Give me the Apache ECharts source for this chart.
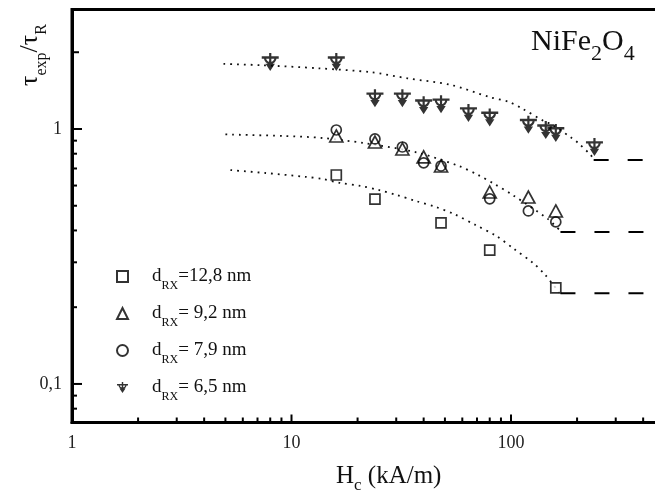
<!DOCTYPE html>
<html>
<head>
<meta charset="utf-8">
<script src="https://cdn.jsdelivr.net/npm/echarts@6/dist/echarts.min.js"></script>
<style>
html,body{margin:0;padding:0;background:#fff;}
#chart{width:655px;height:493px;}
</style>
</head>
<body>
<div id="chart"></div>
<script>
// ---- data ----
const seriesNames = ['d128', 'd92', 'd79', 'd65'];
const legendLabels = ['=12,8 nm', '= 9,2 nm', '= 7,9 nm', '= 6,5 nm'];

const hc128 = [16, 24, 48, 80, 160];
const tau128 = [0.66, 0.531, 0.428, 0.335, 0.238];

const hc92 = [16, 24, 32, 40, 48, 80, 120, 160];
const tau92 = [0.939, 0.889, 0.835, 0.777, 0.716, 0.566, 0.541, 0.477];

const hc79 = [16, 24, 32, 40, 48, 80, 120, 160];
const tau79 = [0.991, 0.914, 0.85, 0.736, 0.716, 0.532, 0.477, 0.432];

const hc65 = [8, 16, 24, 32, 40, 48, 64, 80, 120, 144, 160, 240];
const tau65 = [1.83, 1.83, 1.32, 1.32, 1.24, 1.25, 1.155, 1.11, 1.04, 0.99, 0.965, 0.85];

// dotted fit curves
const fitTopX = [4.9, 7.2, 13.3, 23, 33.8, 53, 79.6, 98, 111, 141, 155, 189, 202, 231, 236];
const fitTopY = [1.80, 1.78, 1.73, 1.67, 1.58, 1.49, 1.335, 1.276, 1.21, 1.075, 1.036, 0.922, 0.882, 0.79, 0.765];
const fitMidX = [5.0, 9.2, 13.8, 21.1, 37, 57.8, 70.9, 83.9, 101.7, 147, 166];
const fitMidY = [0.952, 0.939, 0.922, 0.882, 0.81, 0.716, 0.66, 0.609, 0.551, 0.444, 0.402];
const fitLowX = [5.27, 7.6, 11.6, 13.8, 16.7, 20.6, 24.9, 30.1, 36.8, 45.5, 55, 69, 85.5, 103, 126, 143, 166];
const fitLowY = [0.69, 0.672, 0.649, 0.637, 0.614, 0.598, 0.577, 0.551, 0.522, 0.494, 0.464, 0.42, 0.381, 0.339, 0.298, 0.268, 0.228];

// dashed asymptotes: [start x, level]
const asymTop = [238, 0.756];
const asymMid = [168, 0.394];
const asymLow = [168, 0.227];

// axes
const xMin = 1, xMax = 1000;
const yMin = 0.0706, yMax = 2.942;
const xMajorTicks = [10, 100];
const xMinorTicks = [2, 3, 4, 5, 6, 7, 8, 9, 20, 30, 40, 50, 60, 70, 80, 90, 200, 300, 400, 500, 600, 700, 800, 900];
const yMajorTicks = [0.1, 1];
const yMidTicks = [2];
const yMinorTicks = [0.08, 0.09, 0.2, 0.3, 0.4, 0.5, 0.6, 0.7, 0.8, 0.9];

// ---- helpers ----
const FONT = "'Liberation Serif','Times New Roman',serif";
const zip = (a, b) => a.map((v, i) => [v, b[i]]);
const hollow = {color: '#fff', borderColor: '#000', borderWidth: 1.7};
const sym65 = 'path://M0 3.5H20V6.2H0Z M8.7 0H11.3V18H8.7Z M2.5 5L5 5A5 5 0 0 0 15 5L17.5 5A7.5 7.5 0 0 1 2.5 5Z M4.5 12H15.5L10 20Z';

function tickData(list, len, axis) {
  return list.map(v => axis === 'x' ? [v, yMin, len, 0] : [xMin, v, len, 1]);
}
const tickSeries = {
  type: 'custom',
  silent: true,
  z: 10,
  renderItem: function (params, api) {
    const p = api.coord([api.value(0), api.value(1)]);
    const len = api.value(2);
    const isY = api.value(3) === 1;
    return {
      type: 'line',
      shape: isY ? {x1: p[0], y1: p[1], x2: p[0] + len, y2: p[1]}
                 : {x1: p[0], y1: p[1], x2: p[0], y2: p[1] - len},
      style: {stroke: '#000', lineWidth: 2}
    };
  },
  data: [].concat(
    tickData(xMajorTicks, 8, 'x'),
    tickData(xMinorTicks, 5, 'x'),
    tickData(yMajorTicks, 10, 'y'),
    tickData(yMidTicks, 7, 'y'),
    tickData(yMinorTicks, 5, 'y')
  )
};

function isPow10(v) {
  const l = Math.log10(v);
  return Math.abs(l - Math.round(l)) < 1e-6;
}

const dotted = {type: [1.8, 5], width: 1.8, color: '#111'};
const dashed = {type: [15, 19], width: 2, color: '#000'};
function lineSeries(data, style, smooth) {
  return {type: 'line', data: data, showSymbol: false, symbol: 'none', smooth: smooth,
          lineStyle: style, silent: true, z: 1};
}

const chart = echarts.init(document.getElementById('chart'), null, {renderer: 'canvas'});
chart.setOption({
  animation: false,
  backgroundColor: '#fff',
  grid: {left: 72, top: 9.5, width: 658.5, height: 413, outerBoundsMode: 'none', containLabel: false,
         show: true, borderWidth: 3, borderColor: '#000', backgroundColor: 'transparent'},
  xAxis: {
    type: 'log', logBase: 10, min: xMin, max: xMax,
    axisLine: {show: true, lineStyle: {color: '#000', width: 3}},
    axisTick: {show: false}, splitLine: {show: false}, minorTick: {show: false},
    axisLabel: {margin: 12, color: '#222', fontFamily: FONT, fontSize: 18,
      formatter: v => isPow10(v) ? String(Math.round(v)) : ''}
  },
  yAxis: {
    type: 'log', logBase: 10, min: yMin, max: yMax,
    axisLine: {show: true, lineStyle: {color: '#000', width: 3}},
    axisTick: {show: false}, splitLine: {show: false},
    axisLabel: {margin: 10, color: '#222', fontFamily: FONT, fontSize: 18,
      formatter: v => isPow10(v) ? (v < 0.5 ? '0,1' : '1') : ''}
  },
  legend: {
    orient: 'vertical', left: 111, top: 262, itemWidth: 11, itemHeight: 11, itemGap: 12.5,
    data: seriesNames,
    selectedMode: false,
    formatter: function (name) {
      const i = seriesNames.indexOf(name);
      return '{m|d}{s|RX}{m|' + legendLabels[i] + '}';
    },
    textStyle: {
      padding: [0, 0, 0, 19],
      rich: {
        m: {fontFamily: FONT, fontSize: 19, color: '#111', lineHeight: 30, verticalAlign: 'middle'},
        s: {fontFamily: FONT, fontSize: 12, color: '#111', lineHeight: 10, verticalAlign: 'bottom'}
      }
    }
  },
  graphic: [
    {type: 'text', x: 30, y: 55, rotation: Math.PI / 2, silent: true,
     style: {text: '{m|τ}{s|exp}{m|/τ}{s|R}', align: 'center', verticalAlign: 'middle',
       rich: {
         m: {fontFamily: FONT, fontSize: 26, fill: '#111', lineHeight: 40, verticalAlign: 'middle'},
         s: {fontFamily: FONT, fontSize: 16, fill: '#111', lineHeight: 16, verticalAlign: 'bottom'}
       }}},
    {type: 'text', x: 336, y: 476, silent: true,
     style: {text: '{m|H}{s|c}{m| (kA/m)}', align: 'left', verticalAlign: 'middle',
       rich: {
         m: {fontFamily: FONT, fontSize: 25, fill: '#111', lineHeight: 36, verticalAlign: 'middle'},
         s: {fontFamily: FONT, fontSize: 17, fill: '#111', lineHeight: 12, verticalAlign: 'bottom'}
       }}},
    {type: 'text', x: 531, y: 42, silent: true,
     style: {text: '{m|NiFe}{s|2}{m|O}{s|4}', align: 'left', verticalAlign: 'middle',
       rich: {
         m: {fontFamily: FONT, fontSize: 30, fill: '#111', lineHeight: 46, verticalAlign: 'middle'},
         s: {fontFamily: FONT, fontSize: 22, fill: '#111', lineHeight: 12, verticalAlign: 'bottom'}
       }}}
  ],
  series: [
    lineSeries(zip(fitTopX, fitTopY), dotted, 0.3),
    lineSeries(zip(fitMidX, fitMidY), dotted, 0.3),
    lineSeries(zip(fitLowX, fitLowY), dotted, 0.3),
    lineSeries([[asymTop[0], asymTop[1]], [xMax, asymTop[1]]], dashed, false),
    lineSeries([[asymMid[0], asymMid[1]], [xMax, asymMid[1]]], dashed, false),
    lineSeries([[asymLow[0], asymLow[1]], [xMax, asymLow[1]]], dashed, false),
    {name: seriesNames[0], type: 'scatter', symbol: 'rect', symbolSize: 10, data: zip(hc128, tau128), itemStyle: hollow, z: 3},
    {name: seriesNames[1], type: 'scatter', symbol: 'triangle', symbolSize: [13, 12], data: zip(hc92, tau92), itemStyle: hollow, z: 3},
    {name: seriesNames[2], type: 'scatter', symbol: 'circle', symbolSize: 10, data: zip(hc79, tau79), itemStyle: {color: 'rgba(255,255,255,0)', borderColor: '#000', borderWidth: 1.7}, z: 4},
    {name: seriesNames[3], type: 'scatter', symbol: sym65, symbolSize: [17, 18], data: zip(hc65, tau65), itemStyle: {color: '#000'}, z: 4},
    tickSeries
  ]
});
</script>
</body>
</html>
